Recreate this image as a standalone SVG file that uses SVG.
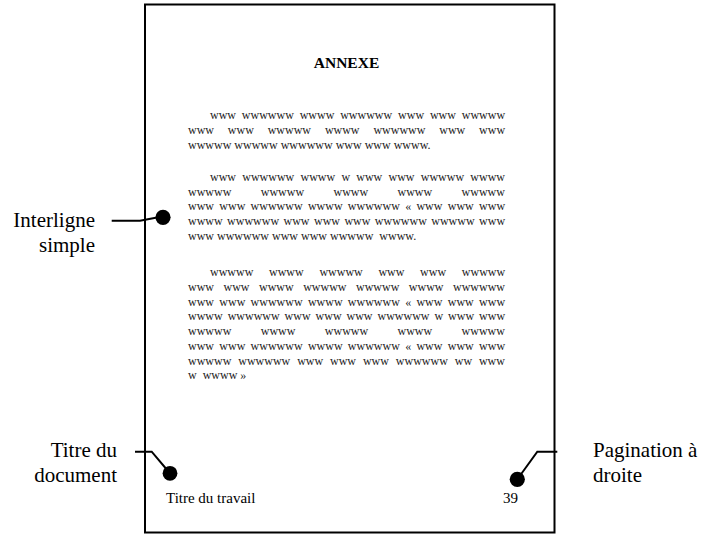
<svg xmlns="http://www.w3.org/2000/svg" width="719" height="535" viewBox="0 0 719 535">
<style>
.body{font-family:"Liberation Serif","Times New Roman",serif;font-size:12px;fill:#222}
.lbl{font-family:"Liberation Serif","Times New Roman","DejaVu Serif",serif;font-size:21px;fill:#000}
.foot{font-family:"Liberation Serif","Times New Roman",serif;font-size:15px;fill:#000}
.ttl{font-family:"Liberation Serif","Times New Roman",serif;font-size:15.5px;font-weight:bold;fill:#000}
.con{fill:none;stroke:#000;stroke-width:2}
.dot{fill:#000}
</style>
<rect width="719" height="535" fill="#fff"/>
<g id="page">
<rect x="145" y="4.5" width="409.5" height="528" fill="#fff" stroke="#000" stroke-width="2"/>
<text class="ttl" x="346.5" y="67.5" text-anchor="middle">ANNEXE</text>
<g id="para1" class="body">
<text x="210" y="119.3" word-spacing="2.85">www wwwwww wwww wwwwww www www wwwww</text>
<text x="188" y="134" word-spacing="10.85">www www wwwww wwww wwwwww www www</text>
<text x="188" y="148.7">wwwww wwwww wwwwww www www wwww.</text>
</g>
<g id="para2" class="body">
<text x="210" y="181" word-spacing="3.24">www wwwwww wwww w www www wwwww wwww</text>
<text x="188" y="195.7" word-spacing="26.4">wwwww wwwww wwww wwww wwwww</text>
<text x="188" y="210.4" word-spacing="2.3">www www wwwwww wwww wwwwww « www www www</text>
<text x="188" y="225.1" word-spacing="1.44">wwww wwwwww www www www wwwwww wwwww www</text>
<text x="188" y="239.8">www wwwwww www www wwwww&#160; wwww.</text>
</g>
<g id="para3" class="body">
<text x="210" y="276.3" word-spacing="12.7">wwwww wwww wwwww www www wwwww</text>
<text x="188" y="291" word-spacing="6.5">www www wwww wwwww wwwww wwww wwwwww</text>
<text x="188" y="305.7" word-spacing="2.3">www www wwwwww wwww wwwwww « www www www</text>
<text x="188" y="320.4" word-spacing="1.97">wwww wwwwww www www www wwwwww w www www</text>
<text x="188" y="335.1" word-spacing="26.4">wwwww wwww wwwww wwww wwwww</text>
<text x="188" y="349.8" word-spacing="2.3">www www wwwwww wwww wwwwww « www www www</text>
<text x="188" y="364.5" word-spacing="3.9">wwwww wwwwww www www www wwwwww ww www</text>
<text x="188" y="379.2">w&#160; wwww »</text>
</g>
<text class="foot" x="166" y="503.3">Titre du travail</text>
<text class="foot" x="503" y="503.3">39</text>
</g>
<g id="label-interligne">
<text class="lbl" x="95" y="226.7" text-anchor="end" font-family="Liberation Serif, serif">Interligne</text>
<text class="lbl" x="95" y="251.7" text-anchor="end" font-family="Liberation Serif, serif">simple</text>
</g>
<g id="label-titre">
<text class="lbl" x="117" y="456.7" text-anchor="end" font-family="Liberation Serif, serif">Titre du</text>
<text class="lbl" x="117" y="481.7" text-anchor="end" font-family="Liberation Serif, serif">document</text>
</g>
<g id="label-pagination">
<text class="lbl" x="593" y="456.7" font-family="Liberation Serif, serif">Pagination à</text>
<text class="lbl" x="593" y="481.7" font-family="Liberation Serif, serif">droite</text>
</g>
<g id="connectors">
<polyline class="con" points="111.7,220.7 140,220.7 157,217.5"/>
<circle class="dot" cx="163" cy="217.3" r="7.6"/>
<polyline class="con" points="135,451.7 151.7,451.7 168,471"/>
<circle class="dot" cx="170" cy="473.3" r="7.4"/>
<polyline class="con" points="557.3,451.7 537.3,451.7 519,477"/>
<circle class="dot" cx="517.3" cy="479.3" r="7.6"/>
</g>
</svg>
